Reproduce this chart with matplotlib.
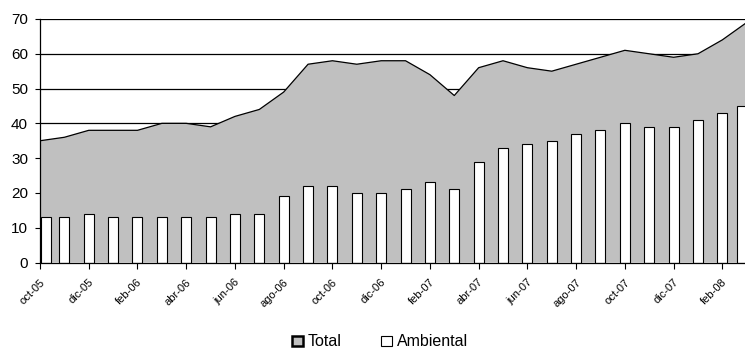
import numpy as np
import matplotlib
matplotlib.use("Agg")
import matplotlib.pyplot as plt
from matplotlib.patches import Patch
from matplotlib.transforms import ScaledTranslation

plt.rcParams['font.family'] = ['Liberation Sans', 'DejaVu Sans']

months = ["oct-05", "nov-05", "dic-05", "ene-06", "feb-06", "mar-06", "abr-06",
          "may-06", "jun-06", "jul-06", "ago-06", "sep-06", "oct-06", "nov-06",
          "dic-06", "ene-07", "feb-07", "mar-07", "abr-07", "may-07", "jun-07",
          "jul-07", "ago-07", "sep-07", "oct-07", "nov-07", "dic-07", "ene-08",
          "feb-08", "mar-08"]
total = [35, 36, 38, 38, 38, 40, 40, 39, 42, 44, 49, 57, 58, 57, 58,
         58, 54, 48, 56, 58, 56, 55, 57, 59, 61, 60, 59, 60, 64, 69]
ambiental = [13, 13, 14, 13, 13, 13, 13, 13, 14, 14, 19, 22, 22, 20, 20,
             21, 23, 21, 29, 33, 34, 35, 37, 38, 40, 39, 39, 41, 43, 45]
y_ticks = [0, 10, 20, 30, 40, 50, 60, 70]

W, H = 745, 350
fig = plt.figure(figsize=(W / 100, H / 100), dpi=100)
ax = fig.add_axes([40 / W, 87.5 / H, (746.7 - 40) / W, (262.5 - 19) / H])

x = np.arange(len(months), dtype=float)

# horizontal grid, kept underneath the area
ax.hlines(y_ticks[1:], x[0], x[-1], color="black", lw=0.9, zorder=0.5)

# gray area for the total, outlined in black
ax.fill_between(x, total, 0, facecolor="#C0C0C0", edgecolor="none", lw=0, zorder=2)
ax.plot(x, total, color="black", lw=0.9, zorder=2.5)

# white columns; the first and last ones are kept inside the plot area
bw = 0.41
bx = x.copy()
bx[0] = bw / 2 + 0.03
bx[-1] = x[-1] - bw / 2
ax.bar(bx, ambiental, width=bw, color="white", edgecolor="black",
       linewidth=0.8, zorder=3)

ax.set_xlim(0, len(months) - 1)
ax.set_ylim(0, 70)
ax.set_yticks(y_ticks)

for s in ["top", "right"]:
    ax.spines[s].set_visible(False)
for s in ["left", "bottom"]:
    ax.spines[s].set_color("black")
    ax.spines[s].set_linewidth(0.9)
    ax.spines[s].set_zorder(4)

ax.tick_params(axis="y", length=3.6, width=0.8, pad=5, labelsize=11)
ax.tick_params(axis="x", length=4, width=0.8, pad=9, labelsize=8)

ax.set_xticks(x[::2])
ax.set_xticklabels(months[::2])
shift = ScaledTranslation(3 / 100, 0, fig.dpi_scale_trans)
for lab in ax.get_xticklabels():
    lab.set_rotation(45)
    lab.set_rotation_mode("anchor")
    lab.set_ha("right")
    lab.set_va("center")
    lab.set_transform(lab.get_transform() + shift)

handles = [Patch(facecolor="#C0C0C0", edgecolor="black", linewidth=1.8, label="Total"),
           Patch(facecolor="white", edgecolor="black", linewidth=0.8, label="Ambiental")]
fig.legend(handles=handles, loc="center", bbox_to_anchor=(380 / W, 1 - 342 / H),
           ncol=2, frameon=False, fontsize=11.5, handlelength=0.65,
           handleheight=0.65, handletextpad=0.3, columnspacing=2.5)

fig.savefig("out.png", dpi=100)
